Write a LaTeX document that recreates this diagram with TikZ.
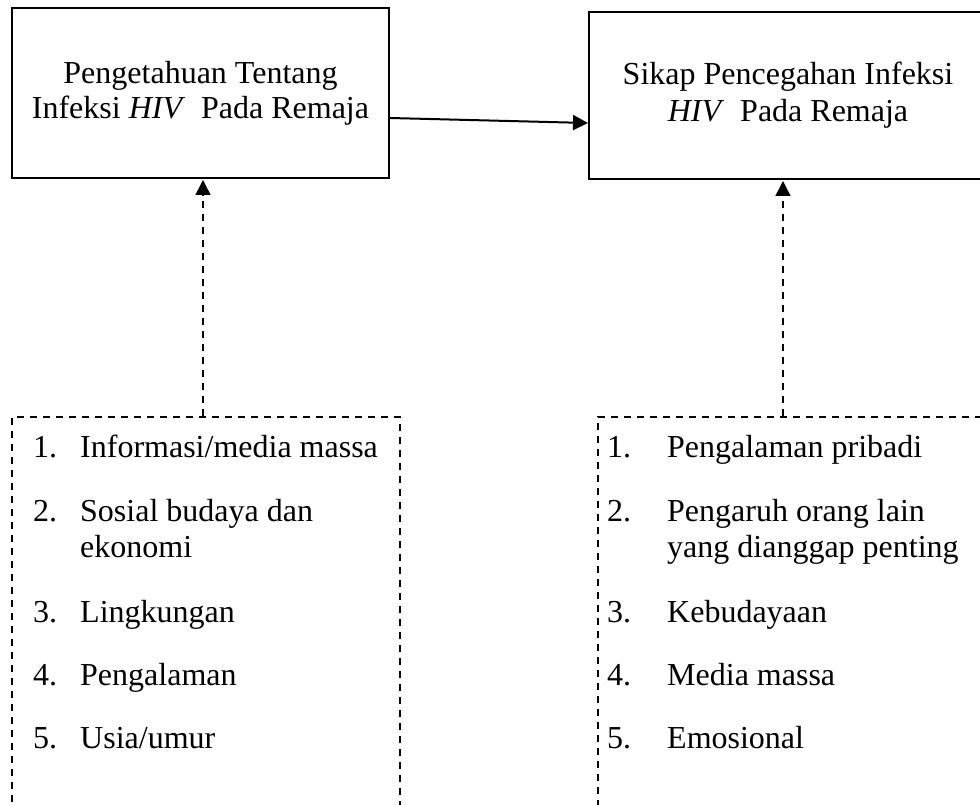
\documentclass[tikz,border=0pt]{standalone}
\usepackage{fontspec}
\setmainfont{Liberation Serif}
\usetikzlibrary{arrows.meta,calc}
\begin{document}
\begin{tikzpicture}[x=1pt,y=-1pt,
  box/.style={draw,line width=2pt,inner sep=0pt,align=center},
  dbox/.style={draw,line width=1.5pt,dash pattern=on 7pt off 6pt,inner sep=0pt},
  item/.style={anchor=base west,inner sep=0pt,font=\fontsize{32}{36}\selectfont},
  arr/.style={line width=2pt,-{Triangle[length=15pt,width=15pt]}},
  darr/.style={line width=1.5pt,dash pattern=on 7pt off 6pt,-{Triangle[length=15pt,width=15pt]}}]
\useasboundingbox (0,0) rectangle (980,805);
\clip (0,0) rectangle (980,805);

% top boxes
\node[box,minimum width=377pt,minimum height=170pt,font=\fontsize{32}{35}\selectfont] (L) at (200.5,93)
  {Pengetahuan Tentang\\Infeksi \textit{HIV}\ \ Pada Remaja};
\node[box,minimum width=398pt,minimum height=167pt,font=\fontsize{32}{37}\selectfont] (R) at (788,95.5)
  {Sikap Pencegahan Infeksi\\\textit{HIV}\ \ Pada Remaja};

% dashed boxes (bottom cut off by the frame)
\node[dbox,minimum width=388pt,minimum height=406pt] (LD) at (206,620) {};
\node[dbox,minimum width=392pt,minimum height=406pt] (RD) at (794,620) {};

% connectors
\draw[arr] ([yshift=-25pt]L.east) -- ([yshift=-27.5pt]R.west);
\draw[darr] ([xshift=-3pt]LD.north) -- ([xshift=2.5pt,yshift=-1pt]L.south);
\draw[darr] ([xshift=-11pt]RD.north) -- ([xshift=-5pt,yshift=-1pt]R.south);

% left list
\node[item] (l1n) at (33,457) {1.};
\node[item] (l1t) at (80,457) {Informasi/media massa};
\node[item] (l2n) at (33,521) {2.};
\node[item] (l2t) at (80,521) {Sosial budaya dan};
\node[item] (l2u) at (80,557) {ekonomi};
\node[item] (l3n) at (33,622) {3.};
\node[item] (l3t) at (80,622) {Lingkungan};
\node[item] (l4n) at (33,685) {4.};
\node[item] (l4t) at (80,685) {Pengalaman};
\node[item] (l5n) at (33,748) {5.};
\node[item] (l5t) at (80,748) {Usia/umur};

% right list
\node[item] (r1n) at (607,457) {1.};
\node[item] (r1t) at (667,457) {Pengalaman pribadi};
\node[item] (r2n) at (607,521) {2.};
\node[item] (r2t) at (667,521) {Pengaruh orang lain};
\node[item] (r2u) at (667,557) {yang dianggap penting};
\node[item] (r3n) at (607,622) {3.};
\node[item] (r3t) at (667,622) {Kebudayaan};
\node[item] (r4n) at (607,685) {4.};
\node[item] (r4t) at (667,685) {Media massa};
\node[item] (r5n) at (607,748) {5.};
\node[item] (r5t) at (667,748) {Emosional};
\end{tikzpicture}
\end{document}
